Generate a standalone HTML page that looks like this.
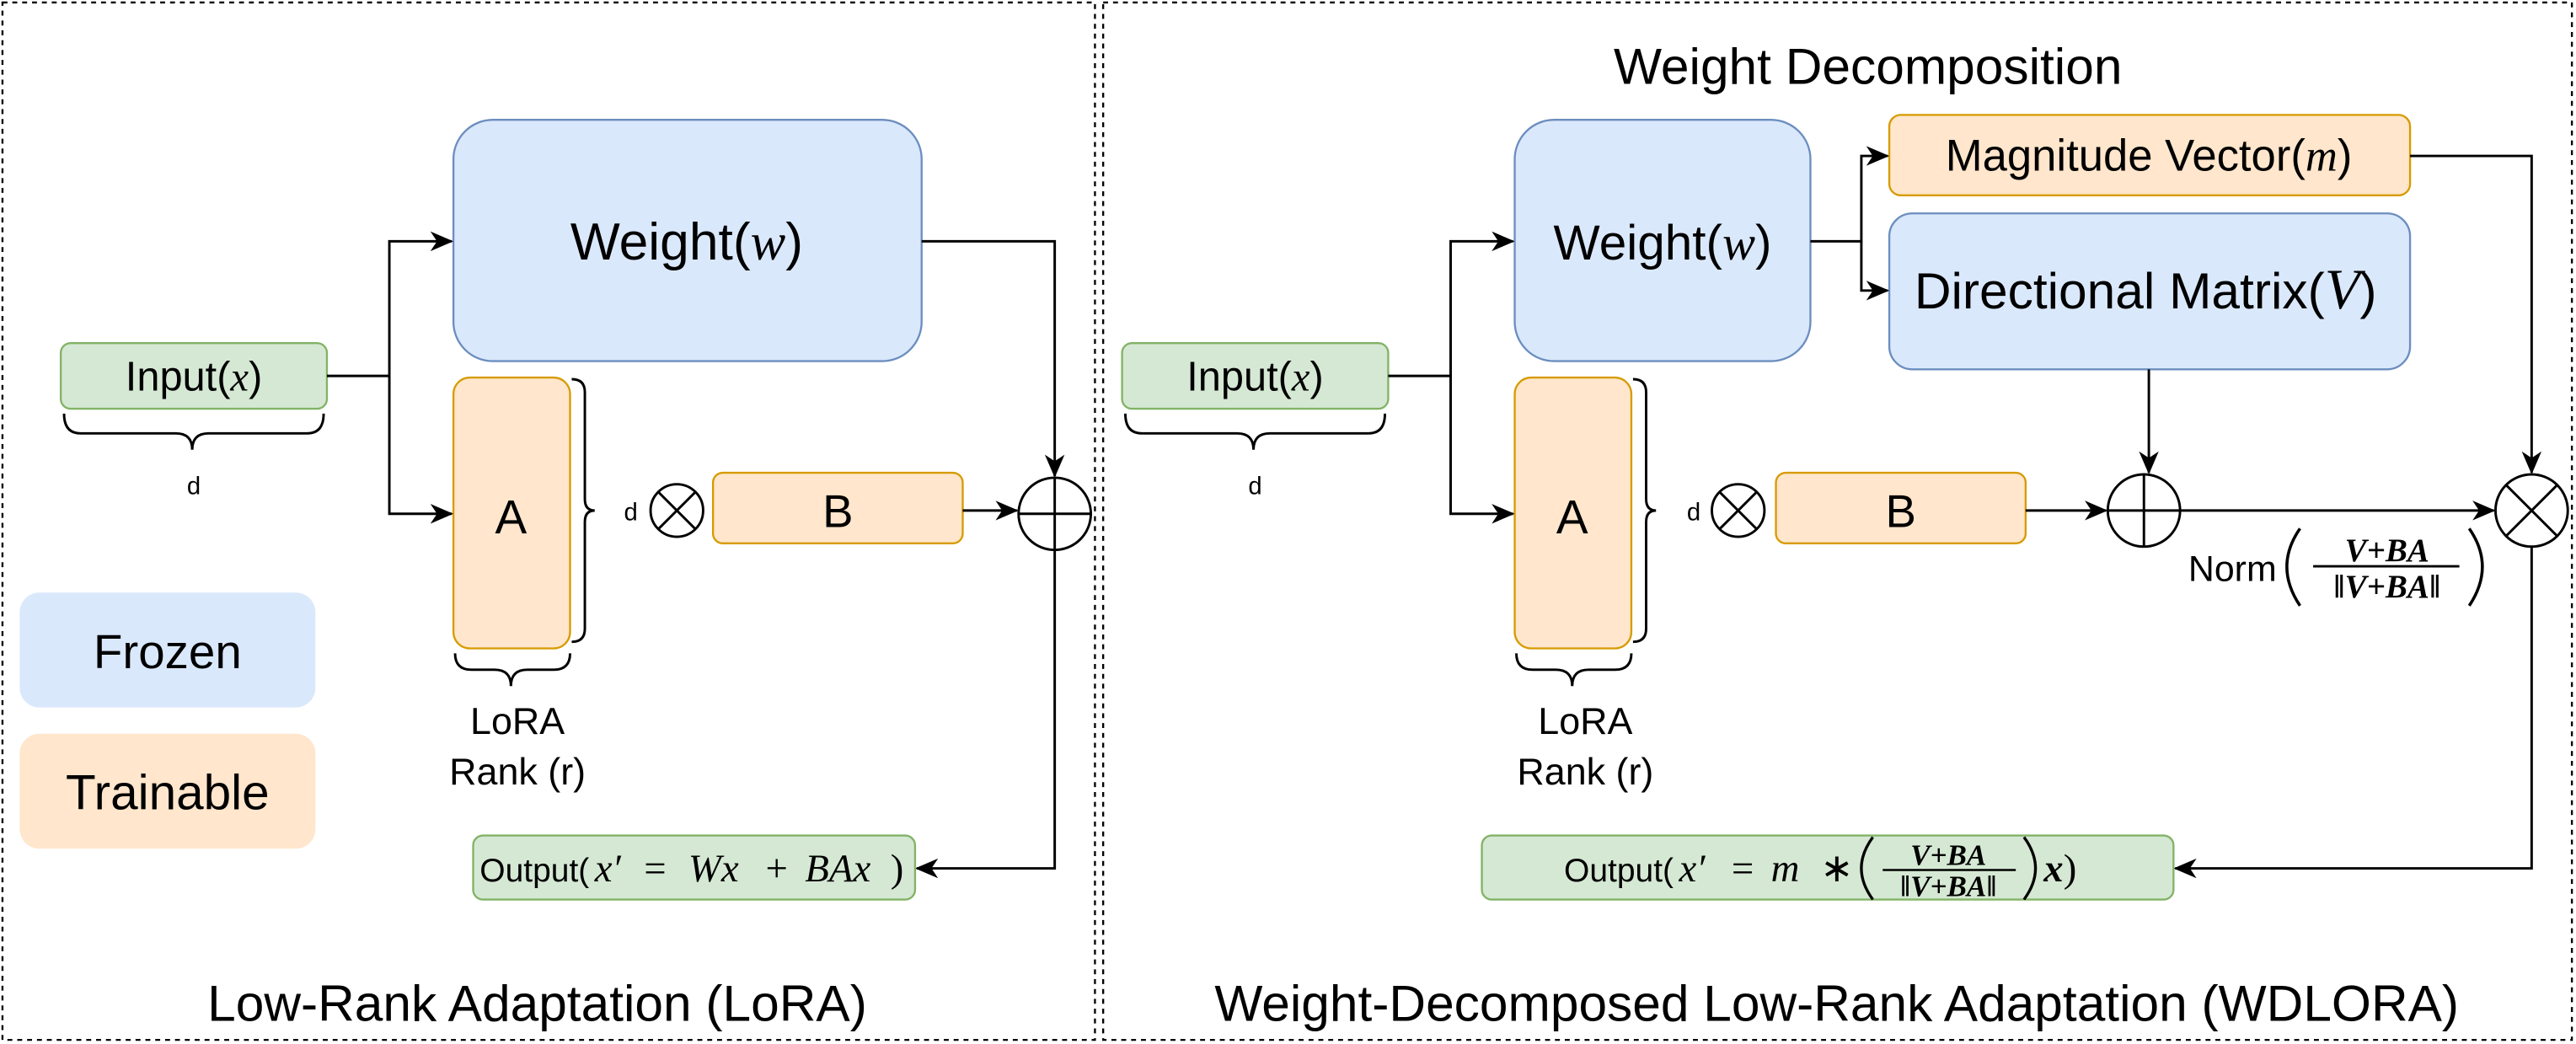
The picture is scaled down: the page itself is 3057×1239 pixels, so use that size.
<!DOCTYPE html>
<html><head><meta charset="utf-8"><style>
html,body{margin:0;padding:0;background:#fff;}
svg{display:block;}
text{font-family:"Liberation Sans",sans-serif;fill:#000;}
.m{font-family:"Liberation Serif",serif;font-style:italic;}
.b{font-family:"Liberation Serif",serif;font-style:italic;font-weight:bold;}
.r{font-family:"Liberation Serif",serif;}
</style></head><body>
<svg width="3057" height="1239" viewBox="0 0 1568 636" preserveAspectRatio="none" xmlns="http://www.w3.org/2000/svg">
<defs>
<marker id="ar" viewBox="0 0 14 12" refX="13" refY="6" markerWidth="14" markerHeight="12" orient="auto" markerUnits="userSpaceOnUse">
<path d="M0,0 L14,6 L0,12 L4,6 z" fill="#000"/></marker>
</defs>
<g fill="none" stroke="#000" stroke-width="1.2" stroke-dasharray="3,3">
<rect x="1.5" y="1.5" width="665" height="632"/>
<rect x="671.5" y="1.5" width="894" height="632"/>
</g>
<!-- LEFT -->
<rect x="276" y="73" width="285" height="147" rx="24" fill="#dae8fc" stroke="#6c8ebf" stroke-width="1.2"/>
<text x="418" y="158" font-size="32" text-anchor="middle">Weight(<tspan class="m">w</tspan>)</text>
<rect x="37" y="209" width="162" height="40" rx="6" fill="#d5e8d4" stroke="#82b366" stroke-width="1.2"/>
<text x="118" y="238" font-size="25" text-anchor="middle">Input(<tspan class="m">x</tspan>)</text>
<path d="M39,252 q0,12 10,12 h58 q10,0 10,10 q0,-10 10,-10 h60 q10,0 10,-12" fill="none" stroke="#000" stroke-width="1.5"/>
<text x="118" y="301" font-size="15" text-anchor="middle">d</text>
<rect x="276" y="230" width="71" height="165" rx="10" fill="#ffe6cc" stroke="#d79b00" stroke-width="1.2"/>
<text x="311" y="325" font-size="29" text-anchor="middle">A</text>
<path d="M348,231 q8,0 8,8 v65 q0,7 6,7 q-6,0 -6,7 v65 q0,8 -8,8" fill="none" stroke="#000" stroke-width="1.5"/>
<text x="384" y="317" font-size="15" text-anchor="middle">d</text>
<circle cx="412" cy="311" r="16" fill="#fff" stroke="#000" stroke-width="1.5"/>
<path d="M401,300 L423,322 M423,300 L401,322" stroke="#000" stroke-width="1.5"/>
<rect x="434" y="288" width="152" height="43" rx="6" fill="#ffe6cc" stroke="#d79b00" stroke-width="1.2"/>
<text x="510" y="321" font-size="28" text-anchor="middle">B</text>
<path d="M277,398 q0,10 10,10 h14 q10,0 10,10 q0,-10 10,-10 h16 q10,0 10,-10" fill="none" stroke="#000" stroke-width="1.5"/>
<text x="315" y="447" font-size="23" text-anchor="middle">LoRA</text>
<text x="315" y="478" font-size="23" text-anchor="middle">Rank (r)</text>
<circle cx="642" cy="313" r="22" fill="#fff" stroke="#000" stroke-width="1.5"/>
<path d="M620,313 H664 M642,291 V335" stroke="#000" stroke-width="1.5"/>
<g fill="none" stroke="#000" stroke-width="1.5">
<path d="M199,229 H237 V147 H275" marker-end="url(#ar)"/>
<path d="M237,229 V313 H275" marker-end="url(#ar)"/>
<path d="M561,147 H642 V290" marker-end="url(#ar)"/>
<path d="M586,311 H619" marker-end="url(#ar)"/>
<path d="M642,335 V529 H558" marker-end="url(#ar)"/>
</g>
<rect x="288" y="509" width="269" height="39" rx="6" fill="#d5e8d4" stroke="#82b366" stroke-width="1.2"/>
<text x="292" y="537" font-size="20">Output(</text>
<text y="537" font-size="24" class="m"><tspan x="362">x′</tspan><tspan x="392" class="r" font-style="normal">=</tspan><tspan x="419">Wx</tspan><tspan x="466" class="r" font-style="normal">+</tspan><tspan x="490">BAx</tspan><tspan x="542" class="r" font-style="normal">)</tspan></text>
<rect x="12" y="361" width="180" height="70" rx="12" fill="#dae8fc"/>
<text x="102" y="407" font-size="29" text-anchor="middle">Frozen</text>
<rect x="12" y="447" width="180" height="70" rx="12" fill="#ffe6cc"/>
<text x="102" y="493" font-size="30" text-anchor="middle">Trainable</text>
<text x="327" y="622" font-size="31" text-anchor="middle">Low-Rank Adaptation (LoRA)</text>
<!-- RIGHT -->
<text x="1137" y="51" font-size="31" text-anchor="middle">Weight Decomposition</text>
<rect x="922" y="73" width="180" height="147" rx="24" fill="#dae8fc" stroke="#6c8ebf" stroke-width="1.2"/>
<text x="1012" y="158" font-size="30" text-anchor="middle">Weight(<tspan class="m">w</tspan>)</text>
<rect x="1150" y="70" width="317" height="49" rx="7" fill="#ffe6cc" stroke="#d79b00" stroke-width="1.2"/>
<text x="1308" y="104" font-size="27" text-anchor="middle">Magnitude Vector(<tspan class="m">m</tspan>)</text>
<rect x="1150" y="130" width="317" height="95" rx="14" fill="#dae8fc" stroke="#6c8ebf" stroke-width="1.2"/>
<text x="1306" y="188" font-size="31" text-anchor="middle">Directional Matrix(<tspan class="m" font-size="35">V</tspan>)</text>
<rect x="683" y="209" width="162" height="40" rx="6" fill="#d5e8d4" stroke="#82b366" stroke-width="1.2"/>
<text x="764" y="238" font-size="25" text-anchor="middle">Input(<tspan class="m">x</tspan>)</text>
<path d="M685,252 q0,12 10,12 h58 q10,0 10,10 q0,-10 10,-10 h60 q10,0 10,-12" fill="none" stroke="#000" stroke-width="1.5"/>
<text x="764" y="301" font-size="15" text-anchor="middle">d</text>
<rect x="922" y="230" width="71" height="165" rx="10" fill="#ffe6cc" stroke="#d79b00" stroke-width="1.2"/>
<text x="957" y="325" font-size="29" text-anchor="middle">A</text>
<path d="M994,231 q8,0 8,8 v65 q0,7 6,7 q-6,0 -6,7 v65 q0,8 -8,8" fill="none" stroke="#000" stroke-width="1.5"/>
<text x="1031" y="317" font-size="15" text-anchor="middle">d</text>
<circle cx="1058" cy="311" r="16" fill="#fff" stroke="#000" stroke-width="1.5"/>
<path d="M1047,300 L1069,322 M1069,300 L1047,322" stroke="#000" stroke-width="1.5"/>
<rect x="1081" y="288" width="152" height="43" rx="6" fill="#ffe6cc" stroke="#d79b00" stroke-width="1.2"/>
<text x="1157" y="321" font-size="28" text-anchor="middle">B</text>
<path d="M923,398 q0,10 10,10 h14 q10,0 10,10 q0,-10 10,-10 h16 q10,0 10,-10" fill="none" stroke="#000" stroke-width="1.5"/>
<text x="965" y="447" font-size="23" text-anchor="middle">LoRA</text>
<text x="965" y="478" font-size="23" text-anchor="middle">Rank (r)</text>
<circle cx="1305" cy="311" r="22" fill="#fff" stroke="#000" stroke-width="1.5"/>
<path d="M1283,311 H1327 M1305,289 V333" stroke="#000" stroke-width="1.5"/>
<circle cx="1541" cy="311" r="22" fill="#fff" stroke="#000" stroke-width="1.5"/>
<path d="M1525.5,295.5 L1556.5,326.5 M1556.5,295.5 L1525.5,326.5" stroke="#000" stroke-width="1.5"/>
<g fill="none" stroke="#000" stroke-width="1.5">
<path d="M845,229 H883 V147 H921" marker-end="url(#ar)"/>
<path d="M883,229 V313 H921" marker-end="url(#ar)"/>
<path d="M1102,147 H1133 V95 H1149" marker-end="url(#ar)"/>
<path d="M1133,147 V177 H1149" marker-end="url(#ar)"/>
<path d="M1467,95 H1541 V288" marker-end="url(#ar)"/>
<path d="M1308,225 V288" marker-end="url(#ar)"/>
<path d="M1233,311 H1282" marker-end="url(#ar)"/>
<path d="M1327,311 H1518" marker-end="url(#ar)"/>
<path d="M1541,333 V529 H1324" marker-end="url(#ar)"/>
</g>
<text x="1332" y="354" font-size="22">Norm</text>
<path d="M1400,322 Q1384,345 1400,369" fill="none" stroke="#000" stroke-width="1.8"/>
<text x="1453" y="342" font-size="20" class="b" text-anchor="middle">V+BA</text>
<line x1="1408" y1="345" x2="1497" y2="345" stroke="#000" stroke-width="1.5"/>
<text x="1453" y="364" font-size="20" class="b" text-anchor="middle">‖V+BA‖</text>
<path d="M1503,322 Q1519,345 1503,369" fill="none" stroke="#000" stroke-width="1.8"/>
<rect x="902" y="509" width="421" height="39" rx="6" fill="#d5e8d4" stroke="#82b366" stroke-width="1.2"/>
<text x="952" y="537" font-size="20">Output(</text>
<text y="537" font-size="24" class="m"><tspan x="1022">x′</tspan><tspan x="1054" class="r" font-style="normal">=</tspan><tspan x="1078">m</tspan><tspan x="1108" class="r" font-style="normal">∗</tspan></text>
<path d="M1140,510 Q1126,529 1140,548" fill="none" stroke="#000" stroke-width="1.7"/>
<text x="1186" y="527" font-size="18" class="b" text-anchor="middle">V+BA</text>
<line x1="1146" y1="530" x2="1227" y2="530" stroke="#000" stroke-width="1.3"/>
<text x="1186" y="546" font-size="18" class="b" text-anchor="middle">‖V+BA‖</text>
<path d="M1232,510 Q1246,529 1232,548" fill="none" stroke="#000" stroke-width="1.7"/>
<text x="1244" y="537" font-size="24"><tspan class="b">x</tspan><tspan class="r">)</tspan></text>
<text x="1118" y="622" font-size="31" text-anchor="middle">Weight-Decomposed Low-Rank Adaptation (WDLORA)</text>
</svg>
</body></html>
